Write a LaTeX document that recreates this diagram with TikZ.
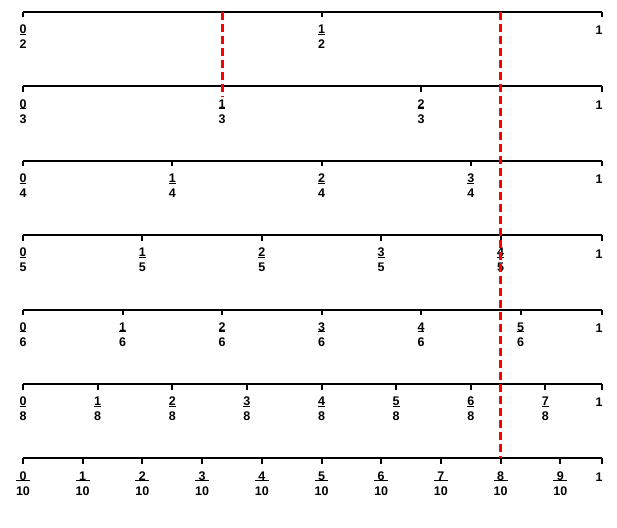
\documentclass[tikz,border=0pt]{standalone}
\usepackage{fontspec}
\setmainfont{Liberation Sans}
\usetikzlibrary{positioning}
\setlength{\arrayrulewidth}{0.9pt}
\newcommand{\fracbox}[2]{\renewcommand{\arraystretch}{0}%
  \begin{tabular}{@{}c@{}}\rule{0pt}{9pt}#1\\\hline\rule{0pt}{14pt}#2\end{tabular}}

\begin{document}
\begin{tikzpicture}[
    x=1pt, y=-1pt,
    numline/.style={line width=2pt},
    tickmark/.style={line width=2pt},
    lbl/.style={font=\fontsize{12.5}{15}\selectfont\bfseries, inner sep=0pt, anchor=north},
    guide/.style={red, line width=3pt, dash pattern=on 8pt off 4pt}
]
    \useasboundingbox (0,0) rectangle (617,527);

    % one number line per denominator
    \foreach \n/\y in {2/12, 3/86.4, 4/160.8, 5/235.2, 6/309.6, 8/384, 10/458.4} {
        \coordinate (start\n) at (23,\y);
        \coordinate (end\n) at (602,\y);
        \draw[numline] (start\n) -- (end\n);
        \draw[tickmark] (start\n) -- ++(0,5.5);
        \draw[tickmark] (end\n) -- ++(0,5.5);
        \node[lbl] (f\n-0) at (23,\y+12.5) {\fracbox{0}{\n}};
        \node[lbl, anchor=center] (one\n) at (599,\y+18.5) {1};
        \pgfmathtruncatemacro{\last}{\n-1}
        \foreach \k in {1,...,\last} {
            \pgfmathsetmacro{\xk}{23+597*\k/\n}
            \draw[tickmark] (\xk,\y) -- ++(0,5.5);
            \node[lbl] (f\n-\k) at (\xk,\y+12.5) {\fracbox{\k}{\n}};
        }
    }

    % red guides at 1/3 and 4/5
    \coordinate (thirdtop) at (222,12);
    \coordinate (thirdbot) at (222,97);
    \coordinate (fifthtop) at (500.6,12);
    \coordinate (fifthbot) at (500.6,458.4);
    \draw[guide] (thirdtop) -- (thirdbot);
    \draw[guide] (fifthtop) -- (fifthbot);
\end{tikzpicture}
\end{document}
